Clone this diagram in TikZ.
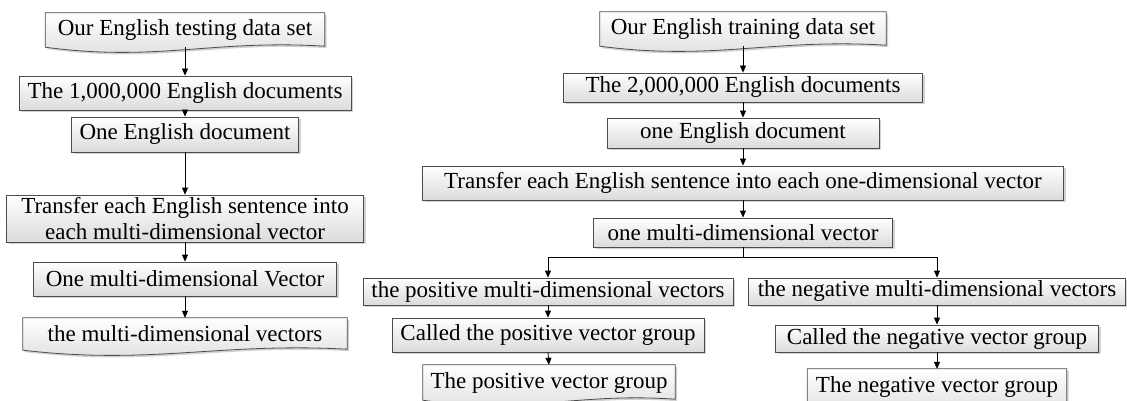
\documentclass[tikz,border=0pt]{standalone}
\usepackage{fontspec}
\setmainfont{Liberation Serif}
\usetikzlibrary{shadows,backgrounds,calc,arrows.meta}
\tikzset{
  every node/.style={font=\fontsize{23}{26}\selectfont, inner sep=0pt, align=center},
  shade box/.style={draw=black!70, line width=0.8pt, top color=white, bottom color=black!14,
    drop shadow={shadow xshift=2pt,shadow yshift=-2pt,fill=black!35,opacity=0.5}},
  box/.style={shade box},
  docshape/.style={shade box},
  arr/.style={-{Triangle[length=7pt,width=6pt]}, line width=0.8pt, black}
}
\newcommand\bx[6]{\node[box,minimum width=#4pt,minimum height=#5pt] (#1) at (#2,#3) {#6};}
\newcommand\dc[6]{\node[minimum width=#4pt,minimum height=#5pt] (#1) at (#2,#3) {#6};
  \begin{scope}[on background layer]
    \path[docshape] (#1.north west) -- (#1.north east) -- ($(#1.south east)+(0,-1)$)
      .. controls ($(#1.south west)!0.6!(#1.south east)+(0,-8)$) and ($(#1.south west)!0.4!(#1.south east)+(0,15)$) .. (#1.south west) -- cycle;
  \end{scope}}
\begin{document}
\begin{tikzpicture}[x=1pt,y=-1pt]
\useasboundingbox (0,0) rectangle (1127,401);
% left column
\dc{d1}{185}{30}{279}{34}{Our English testing data set}
\bx{l2}{185}{93}{332}{34}{The 1,000,000 English documents}
\bx{l3}{185}{134.5}{227}{35}{One English document}
\bx{l4}{185}{218.5}{357}{47}{Transfer each English sentence into\\each multi-dimensional vector}
\bx{l5}{185}{279}{303}{34}{One multi-dimensional Vector}
\dc{d2}{185}{334}{324}{32}{the multi-dimensional vectors}
% right column
\dc{r1}{743}{29}{286}{34}{Our English training data set}
\bx{r2}{743}{87.5}{359}{29}{The 2,000,000 English documents}
\bx{r3}{743}{133}{272}{30}{one English document}
\bx{r4}{743}{183}{641}{34}{Transfer each English sentence into each one-dimensional vector}
\bx{r5}{743}{232.5}{299}{29}{one multi-dimensional vector}
\bx{p1}{548}{291.5}{370}{27}{the positive multi-dimensional vectors}
\bx{p2}{548}{335}{312}{34}{Called the positive vector group}
\dc{p3}{549}{382.5}{252}{35}{The positive vector group}
\bx{n1}{937}{291.5}{377}{27}{the negative multi-dimensional vectors}
\bx{n2}{937}{338.5}{323}{27}{Called the negative vector group}
\dc{n3}{937}{386.5}{259}{35}{The negative vector group}
% connectors
\draw[arr] (d1.south) -- (l2.north);
\draw[arr] (l2.south) -- (l3.north);
\draw[arr] (l3.south) -- (l4.north);
\draw[arr] (l4.south) -- (l5.north);
\draw[arr] (l5.south) -- (d2.north);
\draw[arr] (r1.south) -- (r2.north);
\draw[arr] (r2.south) -- (r3.north);
\draw[arr] (r3.south) -- (r4.north);
\draw[arr] (r4.south) -- (r5.north);
\draw[arr] (r5.south) -- ++(0,10) -| (p1.north);
\draw[arr] (r5.south) -- ++(0,10) -| (n1.north);
\draw[arr] (p1.south) -- (p2.north);
\draw[arr] (p2.south) -- (p3.north);
\draw[arr] (n1.south) -- (n2.north);
\draw[arr] (n2.south) -- (n3.north);
\end{tikzpicture}
\end{document}
